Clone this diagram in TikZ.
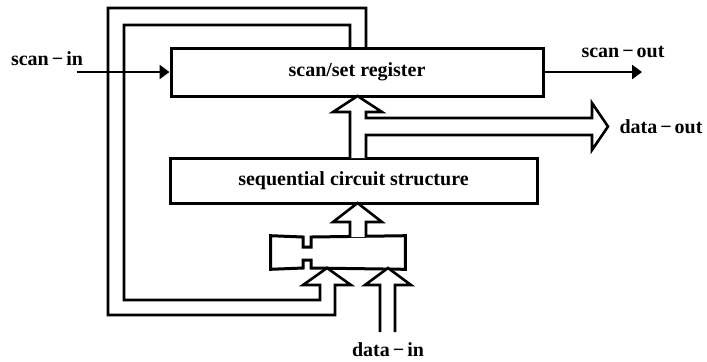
\documentclass[tikz,border=0pt]{standalone}
\usepackage{fontspec}
\setmainfont{Liberation Serif}
\usepackage{tikz}
\usetikzlibrary{arrows.meta,positioning,calc}

\begin{document}
\begin{tikzpicture}[
    x=0.5pt, y=-0.5pt,
    line width=1.3pt,
    block/.style={draw, line width=1.5pt, inner sep=0pt, font=\fontsize{10}{12}\selectfont\bfseries},
    lbl/.style={font=\fontsize{10}{12}\selectfont\bfseries, inner sep=0pt},
    bus/.style={draw, fill=white, line width=1.3pt, line join=miter},
    arrow/.style={-{Triangle[length=5pt,width=7pt]}, line width=1.3pt}
]
\useasboundingbox (0,0) rectangle (707,361);

\node[block, minimum width=186pt, minimum height=24pt] (reg) at (357,72) {scan/set register};
\node[block, minimum width=183.5pt, minimum height=22.5pt] (seq) at (353.5,180.5) {sequential circuit structure};
\node[inner sep=0pt, minimum width=66pt, minimum height=15.5pt] (latch) at (338,252.5) {};

% latch outline with notches
\draw[line width=1.5pt] (latch.north west) -- (303,237) -- (303,247) -- (311,247) -- (311,237)
    -- (latch.north east) -- (latch.south east) -- (311,268) -- (311,260) -- (303,260)
    -- (303,268) -- (latch.south west) -- cycle;

\node[lbl] (scanin) at (47,59) {scan\kern1.5pt−\kern1.5pt in};
\node[lbl] (scanout) at (623,52) {scan\kern1.5pt−\kern1.5pt out};
\node[lbl] (dataout) at (661,127) {data\kern1.5pt−\kern1.5pt out};
\node[lbl] (datain) at (388,350) {data\kern1.5pt−\kern1.5pt in};

\coordinate (sinstart) at (77,72);
\coordinate (soutend) at (642,72);

% feedback bus
\draw[bus, fill=none] (350,48) -- (350,25) -- (124,25) -- (124,300) -- (320,300) -- (320,285)
    -- (303,285) -- (327,268) -- (351,285) -- (335,285) -- (335,315) -- (108,315)
    -- (108,8) -- (366,8) -- (366,48);

\draw[arrow] (sinstart) -- (reg.west);
\draw[arrow] (reg.east) -- (soutend);

% bus from sequential part to register and data-out
\draw[bus] (350,158) -- (350,112) -- (333,112) -- (357.5,96) -- (382,112) -- (366,112)
    -- (366,118) -- (592,118) -- (592,103) -- (608,126.5) -- (592,150) -- (592,135)
    -- (366,135) -- (366,158);

% bus from latch to sequential part
\draw[bus] (350,237) -- (350,222) -- (333,222) -- (357.5,203) -- (382,222) -- (366,222) -- (366,237);

% data-in bus
\draw[bus] (380,332) -- (380,285) -- (365,285) -- (388,268) -- (411,285) -- (395,285) -- (395,332);

\end{tikzpicture}
\end{document}
